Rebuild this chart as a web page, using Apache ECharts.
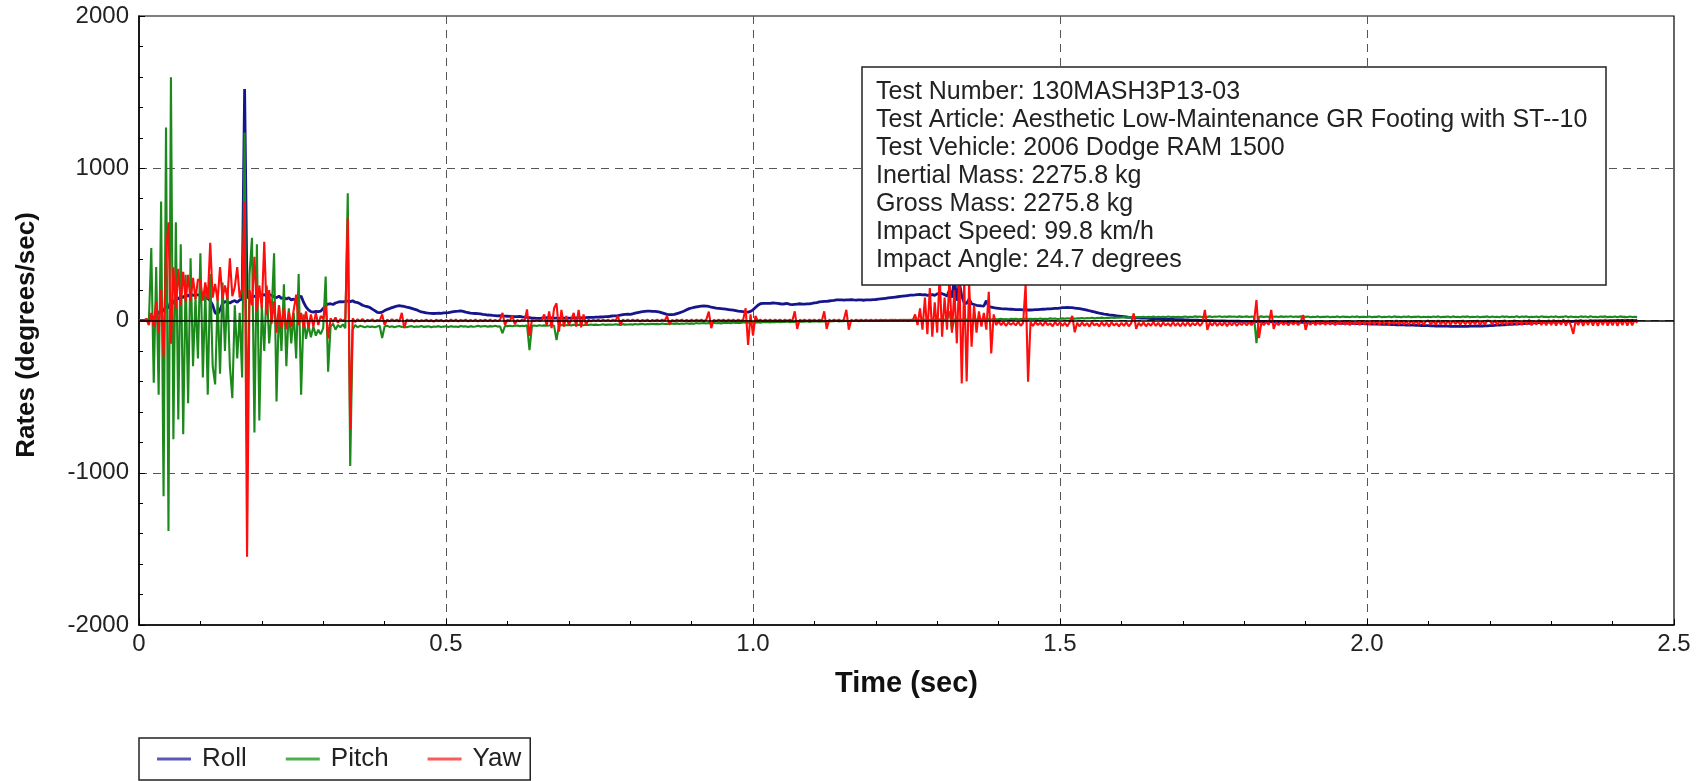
<!DOCTYPE html>
<html><head><meta charset="utf-8">
<script src="https://cdn.jsdelivr.net/npm/echarts@6/dist/echarts.min.js"></script>
<style>html,body{margin:0;padding:0;background:#fff}#c{width:1701px;height:781px}</style>
</head><body><div id="c"></div>
<script>
// sampling interval of the recorded channels (s)
const SAMPLE_DT = 0.004;
const seriesNames = ['Roll', 'Pitch', 'Yaw'];
const xTickValues = [0, 0.5, 1.0, 1.5, 2.0, 2.5];
const yTickValues = [-2000, -1000, 0, 1000, 2000];
const infoLines = [
  'Test Number: 130MASH3P13-03',
  'Test Article: Aesthetic Low-Maintenance GR Footing with ST--10',
  'Test Vehicle: 2006 Dodge RAM 1500',
  'Inertial Mass: 2275.8 kg',
  'Gross Mass: 2275.8 kg',
  'Impact Speed: 99.8 km/h',
  'Impact Angle: 24.7 degrees'
];

// Roll rate (deg/s), one row per 0.1 s
const roll = [
0,0,0,2,5,10,20,35,50,70,60,100,80,130,110,150,140,160,150,170,160,175,165,170,168,
165,160,150,145,130,100,50,40,70,110,125,120,115,125,130,120,135,140,1520,160,140,150,160,155,165,
165,170,160,170,165,155,150,160,145,150,140,150,135,140,130,150,160,120,90,70,58,55,60,58,62,
80,100,108,110,105,115,120,124,122,125,128,124,130,120,118,110,100,95,91,85,75,65,54,52,55,
65,73,78,85,90,95,97,95,92,88,85,80,75,70,62,56,54,50,48,47,46,47,48,47,50,
50,52,55,58,60,61,63,60,55,52,48,47,46,45,43,40,38,36,35,33,32,31,32,30,29,
28,27,27,26,25,27,24,22,20,18,16,15,14,14,15,16,18,18,17,16,15,14,15,16,15,
15,16,16,17,18,17,18,19,20,20,21,22,22,23,24,25,26,28,30,30,32,35,38,40,42,
40,44,48,52,55,58,60,62,62,60,60,58,55,50,45,40,38,38,40,45,50,56,62,70,78,
82,86,90,92,95,96,95,92,88,85,82,80,78,76,74,72,70,68,65,62,60,58,55,55,60,
70,85,100,110,112,113,112,113,115,114,112,110,108,110,112,106,104,106,108,110,108,107,109,110,112,
115,118,122,124,125,126,128,130,132,135,136,135,134,135,136,137,135,134,136,135,133,135,136,135,137,
138,140,142,144,146,148,150,152,154,156,158,160,162,164,166,167,168,170,172,168,170,165,168,170,165,
175,179,176,170,160,200,150,280,130,250,160,115,113,140,110,105,100,98,96,95,130,92,88,84,82,
80,78,77,76,75,74,73,72,72,71,70,70,69,69,70,71,72,73,74,75,76,77,78,79,80,
82,84,85,86,85,84,82,80,78,75,72,68,64,60,56,52,48,45,42,40,37,35,33,31,29,
27,25,23,21,20,19,18,17,16,15,15,14,13,12,12,11,10,10,9,8,8,7,6,6,5,
5,4,4,3,3,2,2,1,1,0,0,-1,-1,-2,-2,-3,-3,-3,-4,-4,-4,-5,-5,-5,-6,
-6,-6,-7,-7,-7,-8,-8,-8,-8,-9,-9,-9,-9,-10,-10,-10,-10,-10,-11,-11,-11,-11,-12,-12,-12,
-12,-13,-13,-14,-14,-15,-15,-15,-16,-16,-16,-17,-17,-17,-18,-18,-18,-19,-19,-19,-20,-20,-20,-21,-21,
-22,-22,-23,-23,-24,-24,-25,-25,-26,-26,-27,-27,-28,-28,-29,-29,-30,-30,-31,-31,-32,-32,-33,-33,-34,
-34,-35,-35,-36,-36,-36,-37,-37,-37,-38,-38,-38,-38,-38,-38,-38,-38,-37,-37,-37,-36,-36,-36,-35,-35,
-34,-33,-32,-31,-30,-29,-28,-27,-26,-25,-24,-23,-22,-21,-20,-19,-18,-17,-16,-15,-14,-13,-12,-12,-11,
-11,-10,-10,-9,-9,-8,-8,-7,-7,-6,-6,-5,-5,-5,-4,-4,-4,-3,-3,-3,-2,-2,-2,-2,-1,
-1,-1,0,0,0,0,0,0,0,0,0
];

// Pitch rate (deg/s)
const pitch = [
0,0,0,5,-20,476,-408,351,-487,781,-1155,1268,-1382,1597,-780,645,-650,500,-747,300,-544,408,-300,150,-250,
442,-374,200,-487,306,-300,-420,150,-350,250,-200,215,-300,-510,100,-250,50,-374,1234,-850,300,543,-736,500,-657,
100,-200,230,-150,50,442,-532,100,-200,238,-300,80,-150,50,-250,306,-487,40,-120,-30,-110,-40,-100,-60,-90,
-50,288,-336,-40,-20,-60,-30,-45,-25,-50,835,-955,-60,-30,-45,-35,-40,-45,-38,-42,-40,-45,-40,-35,-115,
-40,-35,-42,-38,-44,-40,-36,-42,-38,-45,-40,-37,-43,-39,-41,-36,-42,-40,-38,-44,-39,-41,-37,-43,-40,
-38,-42,-37,-41,-39,-43,-36,-40,-38,-42,-37,-41,-39,-35,-40,-38,-36,-41,-37,-39,-35,-40,-38,-84,-36,
-37,-34,-38,-35,-33,-37,-34,-36,-32,-194,-35,-33,-36,-31,-34,-32,-35,-33,-30,-34,-128,-32,-30,-33,-31,
-30,-32,-28,-31,-29,-27,-31,-28,-30,-26,-29,-27,-30,-28,-25,-29,-27,-26,-28,-25,-27,-29,-24,-27,-26,
-25,-27,-23,-26,-24,-22,-26,-23,-25,-21,-24,-22,-25,-20,-23,-21,-24,-20,-22,-19,-23,-20,-21,-18,-22,
-19,-21,-17,-20,-18,-16,-20,-17,-19,-15,-18,-16,-19,-14,-17,-15,-18,-13,-16,-14,-17,-12,-15,-13,-14,
-13,-15,-11,-14,-10,-12,-9,-13,-10,-11,-8,-12,-9,-10,-7,-11,-8,-9,-6,-10,-7,-8,-5,-9,-6,
-7,-5,-8,-4,-6,-3,-7,-4,-5,-2,-6,-3,-4,-1,-5,-2,-3,0,-4,-1,-2,1,-3,0,-1,
0,2,-1,3,0,2,1,4,0,3,1,5,2,4,1,6,3,5,2,6,4,7,3,6,5,
6,8,4,7,5,60,-60,8,5,7,4,8,6,9,5,8,6,9,7,10,6,9,7,10,8,
9,11,8,10,7,11,9,12,8,10,9,13,10,12,9,11,10,13,9,12,10,14,11,13,10,
12,14,11,15,13,16,12,15,14,17,13,16,15,18,14,17,16,19,15,18,17,20,16,19,18,
20,22,19,23,21,24,20,23,22,25,21,24,22,26,21,24,23,25,22,26,23,25,22,24,23,
24,26,22,25,23,27,24,26,22,25,24,27,23,26,25,28,23,26,24,27,25,26,23,27,24,
25,27,23,26,24,-148,25,27,23,26,24,28,25,26,23,27,24,26,25,28,23,26,24,27,25,
24,26,21,25,23,27,22,25,24,26,21,25,23,27,22,26,24,25,21,26,23,27,22,25,24,
23,26,22,25,24,27,21,25,23,26,22,27,24,25,21,26,23,27,22,25,24,26,21,25,23,
25,22,26,23,27,21,25,24,26,22,27,23,25,21,26,24,27,22,25,23,26,21,25,24,27,
22,26,23,25,21,27,24,26,22,25,23,28,21,26,24,27,22,25,23,26,21,27,24,25,22,
26,23,27,21,25,24,28,22,26,23,25,21,27,24,26,22,28,23,25,21,26,24,27,22,25,
23,26,22,27,24,25,21,26,23,25,22
];

// Yaw rate (deg/s)
const yaw = [
0,0,0,10,-30,50,-40,125,-80,200,-238,440,645,-153,350,80,340,100,320,120,300,130,280,140,270,
260,130,250,140,510,150,240,130,351,145,230,140,408,160,220,351,150,210,781,-1551,200,100,419,60,230,
80,517,40,200,-20,125,-80,100,-50,80,-57,60,-40,70,170,-30,50,-45,60,-50,40,-40,50,-30,30,
10,95,-117,15,-10,20,-15,10,-5,12,671,-719,15,-10,8,-5,10,-8,5,-3,8,-6,4,-2,40,
-30,5,-6,8,-4,6,-7,50,-50,7,-3,5,-8,4,-6,2,-4,6,-5,3,-7,5,-3,4,-6,
3,-5,6,-4,5,-6,4,-3,6,-5,3,-4,5,-6,4,-3,5,-4,6,-5,3,-4,5,50,-30,
5,-4,35,-25,4,-5,6,-3,73,-100,5,-4,6,-3,5,40,-35,60,-50,80,113,-73,70,-40,30,
-30,5,50,-40,69,-45,40,-30,6,-5,4,-3,5,-4,6,-3,5,-4,6,-3,30,-30,5,-4,6,
-4,5,-3,6,-5,4,-3,5,-6,4,-3,5,-4,6,-3,30,-25,4,-5,6,-3,5,-4,3,-5,
5,-4,6,-3,5,-4,6,58,-50,5,-4,6,-3,5,-4,6,-3,5,-4,6,-3,5,80,-161,40,
-100,30,-5,6,-4,5,-3,6,-4,5,-3,6,-4,5,-3,6,-4,60,-55,5,-3,6,-4,5,-3,
5,-4,6,-3,60,-55,5,-4,6,-3,5,-4,6,70,-60,5,-4,6,-3,5,-4,6,-3,5,-4,
5,-4,6,-3,5,-4,6,-3,5,-4,6,-3,5,-4,6,-3,40,-30,80,-60,150,-90,213,-106,120,
-80,300,-106,150,-60,280,-80,200,-150,310,-413,260,-400,250,-172,100,-80,60,-40,50,-60,189,-216,40,-30,
-5,-30,-10,-35,-12,-28,-15,-32,-8,-35,-15,240,-402,-12,-35,-10,-30,-15,-35,-8,-30,-18,-38,-10,-32,
-12,-35,-15,-38,-10,30,-77,-15,-38,-12,-35,-18,-40,-10,-32,-20,-38,-12,-35,-15,-40,-12,-33,-18,-38,
-15,-36,-12,-38,-18,47,-55,-15,-35,-12,-38,-18,-34,-10,-36,-15,-40,-12,-33,-18,-37,-11,-35,-16,-38,
-14,-35,-10,-37,-16,-32,-12,-36,-15,69,-62,-13,-34,-9,-36,-15,-33,-10,-38,-14,-32,-11,-35,-16,-30,
-10,-32,-12,-30,-8,135,-115,-12,-30,-8,-28,69,-55,-10,-30,-6,-28,-12,-32,-8,-27,-10,-30,-6,36,
-62,-8,-28,-5,-30,-10,-26,-4,-29,-8,-27,-6,-31,-9,-25,-3,-28,-7,-30,-5,-26,-10,-29,-4,-27,
-3,-27,-5,-25,0,-28,-4,-24,-2,-27,-6,-23,1,-26,-3,-25,-5,-28,0,-24,-4,-26,-2,-27,-5,
0,-25,-3,-27,2,-24,-5,-26,-1,-28,0,-23,-4,-27,1,-25,-3,-26,-2,-24,2,-28,-4,-25,0,
-3,-26,1,-27,-2,-24,3,-29,-1,-25,4,-28,-3,-30,2,-26,5,-31,-2,-27,6,-30,0,-32,4,
-30,6,-33,2,-28,8,-34,3,-31,-88,5,-30,7,-35,2,-29,8,-33,4,-36,6,-30,9,-34,3,
-32,7,-35,5,-30,9,-34,4,-31,6,-15
];

const seriesColors = ['#16168c', '#1b8a1b', '#ff0d0d'];
const legendColors = ['#5a5ab4', '#4fae4f', '#ff5a5a'];
const FONT = '"Liberation Sans", Arial, Helvetica, sans-serif';

function toPairs(vals) {
  return vals.map((v, i) => [Math.round(i * SAMPLE_DT * 1000) / 1000, v]);
}

const chart = echarts.init(document.getElementById('c'), null, { renderer: 'canvas' });

const allData = [roll, pitch, yaw];
const lineWidths = [2.8, 2.1, 2.1];
const series = seriesNames.map((name, i) => {
  const s = {
    name: name,
    type: 'line',
    data: toPairs(allData[i]),
    showSymbol: false,
    symbol: 'none',
    sampling: null,
    smooth: false,
    animation: false,
    color: seriesColors[i],
    itemStyle: { color: legendColors[i] },
    lineStyle: { color: seriesColors[i], width: lineWidths[i] },
    z: 2 + i
  };
  if (i === 0) {
    s.markLine = {
      silent: true, symbol: 'none', animation: false,
      label: { show: false },
      lineStyle: { color: '#000', type: 'solid', width: 1.5 },
      data: [{ yAxis: 0 }]
    };
  }
  return s;
});

const option = {
  animation: false,
  backgroundColor: '#fff',
  textStyle: { fontFamily: FONT },
  grid: { left: 139, right: 27, top: 16, bottom: 156, show: true, borderColor: '#000', borderWidth: 1.2, backgroundColor: 'transparent' },
  title: {
    text: infoLines.join('\n'),
    left: 862, top: 67,
    padding: [11, 19, 11, 14],
    backgroundColor: '#fff',
    borderColor: '#222',
    borderWidth: 1.5,
    textStyle: { fontFamily: FONT, fontSize: 25, fontWeight: 'normal', color: '#222', lineHeight: 28 },
    z: 20
  },
  legend: {
    data: seriesNames,
    left: 139, top: 738,
    padding: [8, 9, 8, 18],
    itemGap: 39,
    itemWidth: 34, itemHeight: 3,
    icon: 'rect',
    borderColor: '#222', borderWidth: 1.5,
    backgroundColor: '#fff',
    textStyle: { fontFamily: FONT, fontSize: 26, color: '#222', padding: [0, 0, 0, 6] }
  },
  xAxis: {
    type: 'value',
    min: xTickValues[0], max: xTickValues[xTickValues.length - 1], interval: 0.5,
    name: 'Time (sec)', nameLocation: 'middle', nameGap: 44,
    nameTextStyle: { fontFamily: FONT, fontSize: 29, fontWeight: 'bold', color: '#111' },
    axisLine: { onZero: false, lineStyle: { color: '#000', width: 1.5 } },
    axisTick: { show: true, inside: true, length: 6, lineStyle: { color: '#000' } },
    minorTick: { show: true, splitNumber: 5, length: 4, lineStyle: { color: '#000' } },
    axisLabel: { fontFamily: FONT, fontSize: 24, color: '#222', margin: 7,
      formatter: v => (v === 0 ? '0' : v.toFixed(1)) },
    splitLine: { show: true, showMinLine: false, showMaxLine: false, lineStyle: { type: [8, 6], color: '#555', width: 1 } }
  },
  yAxis: {
    type: 'value',
    min: yTickValues[0], max: yTickValues[yTickValues.length - 1], interval: 1000,
    name: 'Rates (degrees/sec)', nameLocation: 'middle', nameGap: 99, nameRotate: 90,
    nameTextStyle: { fontFamily: FONT, fontSize: 26, fontWeight: 'bold', color: '#111', padding: [0, 29, 0, 0] },
    axisLine: { onZero: false, lineStyle: { color: '#000', width: 1.5 } },
    axisTick: { show: true, inside: true, length: 6, lineStyle: { color: '#000' } },
    minorTick: { show: true, splitNumber: 5, length: 4, lineStyle: { color: '#000' } },
    axisLabel: { fontFamily: FONT, fontSize: 24, color: '#222', margin: 10, formatter: v => String(v) },
    splitLine: { show: true, showMinLine: false, showMaxLine: false, lineStyle: { type: [8, 6], color: '#555', width: 1 } }
  },
  series: series
};

chart.setOption(option);
</script>
</body></html>
